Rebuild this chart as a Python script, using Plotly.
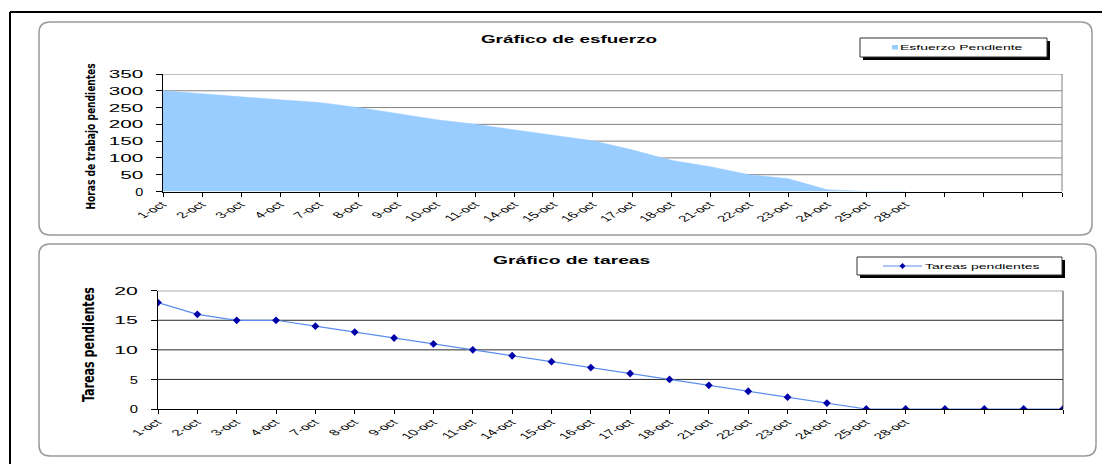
import plotly.graph_objects as go

# ---- data ---------------------------------------------------------------
fechas = ["1-oct", "2-oct", "3-oct", "4-oct", "7-oct", "8-oct", "9-oct", "10-oct",
          "11-oct", "14-oct", "15-oct", "16-oct", "17-oct", "18-oct", "21-oct",
          "22-oct", "23-oct", "24-oct", "25-oct", "28-oct", "", "", "", ""]
esfuerzo_pendiente = [300, 292, 282, 273, 265, 250, 231, 214, 200, 183, 166, 151,
                      124, 93, 74, 50, 38, 5, 0, 0, None, None, None, None]
tareas_pendientes = [18, 16, 15, 15, 14, 13, 12, 11, 10, 9, 8, 7, 6, 5, 4, 3, 2, 1,
                     0, 0, 0, 0, 0, 0]
horas_ticks = [0, 50, 100, 150, 200, 250, 300, 350]
tareas_ticks = [0, 5, 10, 15, 20]

W, H = 1102, 464
FONT = "Liberation Sans, Arial, sans-serif"
NARROW = "Liberation Sans Narrow, Arial Narrow, DejaVu Sans Condensed, sans-serif"
AREA_BLUE = "#99CCFF"
LINE_BLUE = "#5B8DEF"
MARKER_BLUE = "#0000A8"


def fx(x):
    return x / W


def fy(y):
    return 1 - y / H


def to_path(cmds):
    out = []
    for cmd, *ps in cmds:
        out.append(cmd + " ".join(f"{fx(a):.5f},{fy(b):.5f}" for a, b in ps))
    return " ".join(out) + " Z"


def rounded_path(x0, y0, x1, y1, r):
    return to_path([
        ("M", (x0 + r, y0)), ("L", (x1 - r, y0)), ("Q", (x1, y0), (x1, y0 + r)),
        ("L", (x1, y1 - r)), ("Q", (x1, y1), (x1 - r, y1)), ("L", (x0 + r, y1)),
        ("Q", (x0, y1), (x0, y1 - r)), ("L", (x0, y0 + r)), ("Q", (x0, y0), (x0 + r, y0)),
    ])


def diamond_path(cx, cy, h):
    return to_path([("M", (cx, cy - h)), ("L", (cx + h, cy)), ("L", (cx, cy + h)),
                    ("L", (cx - h, cy))])


idx = list(range(len(fechas)))

fig = go.Figure()

# effort chart (area)
fig.add_trace(go.Scatter(
    x=idx, y=esfuerzo_pendiente, mode="lines", fill="tozeroy",
    line=dict(color=AREA_BLUE, width=0.5), fillcolor=AREA_BLUE,
    name="Esfuerzo Pendiente", showlegend=False, xaxis="x", yaxis="y",
))

# task chart (line + markers)
fig.add_trace(go.Scatter(
    x=idx, y=tareas_pendientes, mode="lines+markers",
    line=dict(color=LINE_BLUE, width=1.2),
    marker=dict(symbol="diamond", size=6, color=MARKER_BLUE),
    name="Tareas pendientes", showlegend=False, xaxis="x2", yaxis="y2",
))

axis_common = dict(showgrid=False, zeroline=False, automargin=False, fixedrange=True)

fig.update_layout(
    width=W, height=H, autosize=False,
    margin=dict(l=0, r=0, t=0, b=0, pad=0),
    paper_bgcolor="white", plot_bgcolor="white",
    font=dict(family=FONT, color="black"),
    showlegend=False,
    xaxis=dict(
        domain=[fx(163), fx(1062)], range=[0, len(fechas) - 1],
        tickvals=idx, ticktext=fechas, tickangle=-45,
        tickfont=dict(size=8.5, family=FONT), ticks="outside", ticklen=4,
        tickcolor="black", showline=True, linecolor="black", linewidth=1,
        anchor="y", **axis_common,
    ),
    yaxis=dict(
        domain=[fy(191.5), fy(74)], range=[0, 350],
        tickvals=horas_ticks, ticks="outside", ticklen=6, tickcolor="black",
        tickfont=dict(size=11.5, family=FONT), ticklabelstandoff=10,
        showline=True, linecolor="black", linewidth=1.5,
        anchor="x", **axis_common,
    ),
    xaxis2=dict(
        domain=[fx(158), fx(1063)], range=[0, len(fechas) - 1],
        tickvals=idx, ticktext=fechas, tickangle=-45,
        tickfont=dict(size=8.5, family=FONT), ticks="outside", ticklen=4,
        tickcolor="black", showline=True, linecolor="black", linewidth=1,
        anchor="y2", **axis_common,
    ),
    yaxis2=dict(
        domain=[fy(409), fy(290.7)], range=[0, 20],
        tickvals=tareas_ticks, ticks="outside", ticklen=6, tickcolor="black",
        tickfont=dict(size=11.8, family=FONT), ticklabelstandoff=10,
        showline=True, linecolor="black", linewidth=1.5,
        anchor="x2", **axis_common,
    ),
)

shapes = []
# outer frame (top and left edges)
shapes.append(dict(type="line", xref="paper", yref="paper", x0=fx(10), x1=1, y0=fy(12), y1=fy(12),
                   line=dict(color="black", width=2)))
shapes.append(dict(type="line", xref="paper", yref="paper", x0=fx(10), x1=fx(10), y0=fy(12), y1=0,
                   line=dict(color="black", width=2)))
# rounded panels
shapes.append(dict(type="path", xref="paper", yref="paper", path=rounded_path(39, 22, 1092, 235, 11),
                   line=dict(color="#9A9A9A", width=1.5), layer="below"))
shapes.append(dict(type="path", xref="paper", yref="paper", path=rounded_path(39, 244, 1096, 456, 11),
                   line=dict(color="#9A9A9A", width=1.5), layer="below"))

# horizontal gridlines (behind the data)
for v in horas_ticks[1:]:
    shapes.append(dict(type="line", xref="x domain", yref="y", x0=0, x1=1, y0=v, y1=v,
                       line=dict(color="#808080", width=1), layer="below"))
for v in tareas_ticks[1:]:
    shapes.append(dict(type="line", xref="x2 domain", yref="y2", x0=0, x1=1, y0=v, y1=v,
                       line=dict(color="#2A2A2A", width=1), layer="below"))
# right edge of plot areas
shapes.append(dict(type="line", xref="x domain", yref="y", x0=1, x1=1, y0=0, y1=horas_ticks[-1],
                   line=dict(color="#808080", width=1)))
shapes.append(dict(type="line", xref="x2 domain", yref="y2", x0=1, x1=1, y0=0, y1=tareas_ticks[-1],
                   line=dict(color="#404040", width=1)))


def legend_box(x0, y0, x1, y1):
    return [
        dict(type="rect", xref="paper", yref="paper", x0=fx(x0 + 3), x1=fx(x1 + 3),
             y0=fy(y1 + 3), y1=fy(y0 + 3), fillcolor="black", line=dict(width=0)),
        dict(type="rect", xref="paper", yref="paper", x0=fx(x0), x1=fx(x1),
             y0=fy(y1), y1=fy(y0), fillcolor="white", line=dict(color="#303030", width=1)),
    ]


shapes += legend_box(860, 38, 1047, 57)
shapes += legend_box(857, 257, 1062, 275)
# legend keys
shapes.append(dict(type="rect", xref="paper", yref="paper", x0=fx(892), x1=fx(898),
                   y0=fy(49.5), y1=fy(45), fillcolor=AREA_BLUE, line=dict(width=0)))
shapes.append(dict(type="line", xref="paper", yref="paper", x0=fx(883), x1=fx(922),
                   y0=fy(266), y1=fy(266), line=dict(color=LINE_BLUE, width=1.2)))
shapes.append(dict(type="path", xref="paper", yref="paper", path=diamond_path(902.5, 266, 3),
                   fillcolor=MARKER_BLUE, line=dict(width=0)))
fig.update_layout(shapes=shapes)

annotations = [
    dict(text="<b>Gráfico de esfuerzo</b>", x=fx(569), y=fy(39), font=dict(size=10.5)),
    dict(text="<b>Gráfico de tareas</b>", x=fx(571), y=fy(260), font=dict(size=10.7)),
    dict(text="Esfuerzo Pendiente", x=fx(900), y=fy(47.5), xanchor="left", align="left",
         font=dict(size=7.8)),
    dict(text="Tareas pendientes", x=fx(925), y=fy(266), xanchor="left", align="left",
         font=dict(size=7.8)),
    dict(text="<b>Horas de trabajo pendientes</b>", x=fx(91), y=fy(136.5), textangle=-90,
         font=dict(size=10.1, family=NARROW)),
    dict(text="<b>Tareas pendientes</b>", x=fx(88), y=fy(345), textangle=-90,
         font=dict(size=12.4, family=NARROW)),
]
for a in annotations:
    a.update(xref="paper", yref="paper", showarrow=False, borderpad=0, borderwidth=0)
    a.setdefault("xanchor", "center")
    a["yanchor"] = "middle"
fig.update_layout(annotations=annotations)

# Text is drawn with widened glyphs: x-scaled about its anchor point
# (horizontal text strongly, vertical axis titles slightly).
widen_js = """
var gd = document.getElementById('{plot_id}');
var K = 1.8, KV = 1.25;
function widen(el) {
  if (el.hasAttribute('data-widened') &&
      el.getAttribute('data-widened') === el.getAttribute('transform')) { return; }
  var svg = el.ownerSVGElement;
  var r = el.getBoundingClientRect();
  var k = (r.height > r.width * 1.5) ? KV : K;
  var m = el.getCTM(), pm = el.parentNode.getCTM();
  var bb = el.getBBox();
  var a = el.getAttribute('text-anchor') || 'start';
  var lx = a === 'end' ? bb.x + bb.width : (a === 'middle' ? bb.x + bb.width / 2 : bb.x);
  var p = svg.createSVGPoint();
  p.x = lx; p.y = bb.y + bb.height / 2;
  p = p.matrixTransform(m);
  var s = svg.createSVGMatrix().translate(p.x, p.y).scaleNonUniform(k, 1).translate(-p.x, -p.y);
  var nm = pm.inverse().multiply(s).multiply(m);
  var list = el.transform.baseVal;
  list.initialize(list.createSVGTransformFromMatrix(nm));
  el.setAttribute('data-widened', el.getAttribute('transform'));
}
gd.querySelectorAll('.xaxislayer-above text, .yaxislayer-above text, .annotation-text')
  .forEach(widen);
"""

fig.write_html("out.html", post_script=widen_js, config={"staticPlot": True})
